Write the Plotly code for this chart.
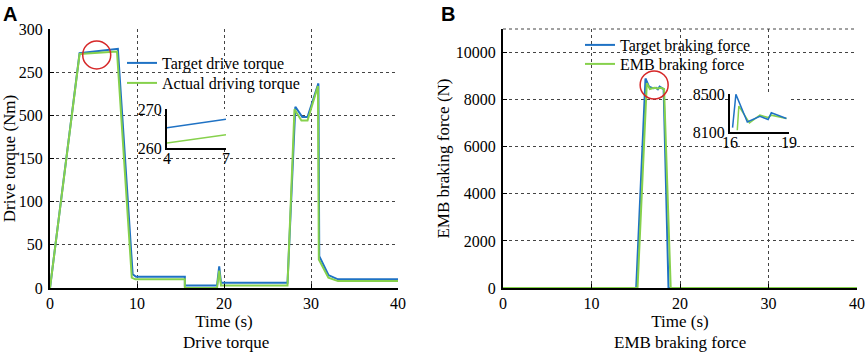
import plotly.graph_objects as go

# ---------------- data ----------------
# Panel A: drive torque (Nm)
t_target_drive = [0, 3.4, 7.8, 9.5, 9.9, 15.5, 15.5, 19.2, 19.45, 19.65, 27.3, 28.2, 29.0, 29.6, 30.85, 30.95, 32.0, 33.1, 40]
target_drive = [0, 272, 277, 16, 13, 13, 3, 3, 25, 6, 6, 210, 198, 198, 237, 37, 15, 10, 10]
t_actual_drive = [0, 3.4, 7.7, 9.4, 9.8, 15.5, 15.5, 19.2, 19.45, 19.65, 27.3, 28.1, 28.9, 29.6, 30.8, 30.9, 32.0, 33.1, 40]
actual_drive = [0, 271, 274, 12, 10, 10, 0, 0, 20, 3, 3, 207, 194, 194, 234, 33, 12, 8, 8]

# Panel A inset (zoom 4–7 s)
t_inset_a = [4, 7]
target_inset_a = [265.2, 267.4]
actual_inset_a = [261.3, 263.4]

# Panel B: EMB braking force (N)
t_target_brake = [0, 15.05, 16.1, 16.5, 17.0, 17.3, 17.5, 17.7, 18.15, 18.7, 40]
target_brake = [0, 0, 8900, 8550, 8480, 8500, 8440, 8550, 8450, 0, 0]
t_emb_brake = [0, 15.2, 16.25, 16.6, 17.1, 17.5, 17.8, 18.2, 18.95, 40]
emb_brake = [0, 0, 8700, 8450, 8500, 8470, 8500, 8450, 0, 0]

# Panel B inset (zoom 16–19 s)
t_inset_b_target = [16.13, 16.3, 16.88, 17.52, 17.94, 18.1, 18.87]
inset_b_target = [8146, 8496, 8206, 8266, 8231, 8302, 8242]
t_inset_b_emb = [16.37, 16.45, 16.99, 17.52, 17.94, 18.1, 18.87]
inset_b_emb = [8118, 8372, 8196, 8277, 8252, 8277, 8242]

# tick labels
a_yticks = [0, 50, 100, 150, 200, 250, 300]
a_yticktext = ["0", "50", "100", "150", "500", "250", "300"]
b_yticks = [0, 2000, 4000, 6000, 8000, 10000]
x_ticks = [0, 10, 20, 30, 40]

BLUE = "#1f72c4"
GREEN = "#86d14c"
FONT = "Liberation Serif, Times New Roman, serif"

fig = go.Figure()

fig.add_trace(go.Scatter(x=t_target_drive, y=target_drive, mode="lines", name="Target drive torque",
                         line=dict(color=BLUE, width=2), xaxis="x", yaxis="y", legend="legend"))
fig.add_trace(go.Scatter(x=t_actual_drive, y=actual_drive, mode="lines", name="Actual driving torque",
                         line=dict(color=GREEN, width=2), xaxis="x", yaxis="y", legend="legend2"))
fig.add_trace(go.Scatter(x=t_target_brake, y=target_brake, mode="lines", name="Target braking force",
                         line=dict(color=BLUE, width=2), xaxis="x2", yaxis="y2", legend="legend3"))
fig.add_trace(go.Scatter(x=t_emb_brake, y=emb_brake, mode="lines", name="EMB braking force",
                         line=dict(color=GREEN, width=2), xaxis="x2", yaxis="y2", legend="legend4"))
fig.add_trace(go.Scatter(x=t_inset_a, y=target_inset_a, mode="lines", showlegend=False,
                         line=dict(color=BLUE, width=1.5), xaxis="x3", yaxis="y3"))
fig.add_trace(go.Scatter(x=t_inset_a, y=actual_inset_a, mode="lines", showlegend=False,
                         line=dict(color=GREEN, width=1.5), xaxis="x3", yaxis="y3"))
fig.add_trace(go.Scatter(x=t_inset_b_emb, y=inset_b_emb, mode="lines", showlegend=False,
                         line=dict(color=GREEN, width=1.5), xaxis="x4", yaxis="y4"))
fig.add_trace(go.Scatter(x=t_inset_b_target, y=inset_b_target, mode="lines", showlegend=False,
                         line=dict(color=BLUE, width=1.5), xaxis="x4", yaxis="y4"))

W, H = 865, 352
def px_x(p):
    return p / W
def px_y(p):
    return 1 - p / H

grid = dict(showgrid=True, gridcolor="#444", griddash="dot", gridwidth=1)
axline = dict(showline=True, linecolor="black", linewidth=2, ticks="inside", ticklen=4,
              tickcolor="black", zeroline=False, automargin=False,
              tickfont=dict(family=FONT, size=16, color="black"))
title_font = dict(family=FONT, size=17, color="black")

dom_y = [px_y(288), px_y(29)]

def leg(xp, yp):
    return dict(x=px_x(xp), y=px_y(yp), xanchor="left", yanchor="top", bgcolor="rgba(0,0,0,0)",
                font=dict(family=FONT, size=16, color="black"), itemwidth=30)

fig.update_layout(
    width=W, height=H,
    margin=dict(l=0, r=0, t=0, b=0),
    paper_bgcolor="white", plot_bgcolor="white",
    font=dict(family=FONT, size=16, color="black"),
    xaxis=dict(domain=[px_x(50), px_x(398)], range=[0, 40], tickvals=x_ticks, anchor="y",
               ticklabelstandoff=0,
               title=dict(text="Time (s)", font=title_font, standoff=0), **grid, **axline),
    yaxis=dict(domain=dom_y, range=[0, 300], tickvals=a_yticks, ticktext=a_yticktext, anchor="x",
               ticklabelstandoff=2,
               title=dict(text="Drive torque (Nm)", font=title_font, standoff=2), **grid, **axline),
    xaxis2=dict(domain=[px_x(503), px_x(857)], range=[0, 40], tickvals=x_ticks, anchor="y2",
                ticklabelstandoff=0,
                title=dict(text="Time (s)", font=title_font, standoff=0), **grid, **axline),
    yaxis2=dict(domain=dom_y, range=[0, 11000], tickvals=b_yticks, tickformat="d", anchor="x2",
                ticklabelstandoff=2,
                title=dict(text="EMB braking force (N)", font=title_font, standoff=2), **grid, **axline),
    xaxis3=dict(domain=[px_x(167), px_x(226)], range=[4, 7], tickvals=[4, 7], anchor="y3",
                showgrid=False, ticklabelstandoff=-5, **axline),
    yaxis3=dict(domain=[px_y(148), px_y(109)], range=[260, 270], tickvals=[260, 270], anchor="x3",
                showgrid=False, **axline),
    xaxis4=dict(domain=[px_x(730), px_x(789)], range=[16, 19], tickvals=[16, 19], anchor="y4",
                showgrid=False, ticklabelstandoff=-5, **axline),
    yaxis4=dict(domain=[px_y(132), px_y(94)], range=[8100, 8500], tickvals=[8100, 8500], tickformat="d",
                anchor="x4", showgrid=False, **axline),
    legend=leg(122, 46),
    legend2=leg(122, 66),
    legend3=leg(580, 28),
    legend4=leg(580, 47),
    showlegend=True,
)

fig.add_shape(type="line", xref="x2 domain", yref="y2 domain", x0=0, x1=1, y0=1, y1=1,
              line=dict(color="#444", width=1, dash="dot"))
fig.add_shape(type="circle", xref="x", yref="y", xsizemode="pixel", ysizemode="pixel",
              xanchor=5.37, yanchor=270, x0=-14, x1=14, y0=-14, y1=14,
              line=dict(color="#d62728", width=1.5))
fig.add_shape(type="circle", xref="x2", yref="y2", xsizemode="pixel", ysizemode="pixel",
              xanchor=17.08, yanchor=8622, x0=-14, x1=14, y0=-14, y1=14,
              line=dict(color="#d62728", width=1.5))

fig.add_annotation(text="<b>A</b>", x=px_x(1), y=px_y(1), xref="paper", yref="paper",
                   xanchor="left", yanchor="top", showarrow=False,
                   font=dict(family="Liberation Sans", size=20, color="black"))
fig.add_annotation(text="<b>B</b>", x=px_x(439), y=px_y(1), xref="paper", yref="paper",
                   xanchor="left", yanchor="top", showarrow=False,
                   font=dict(family="Liberation Sans", size=20, color="black"))
fig.add_annotation(text="Drive torque", x=px_x(226), y=px_y(342), xref="paper", yref="paper",
                   xanchor="center", yanchor="middle", showarrow=False,
                   font=dict(family=FONT, size=17, color="black"))
fig.add_annotation(text="EMB braking force", x=px_x(680), y=px_y(342), xref="paper", yref="paper",
                   xanchor="center", yanchor="middle", showarrow=False,
                   font=dict(family=FONT, size=17, color="black"))

fig.write_html("out.html", config={"displayModeBar": False},
               post_script="document.body.style.margin='0px';document.body.style.padding='0px';")
